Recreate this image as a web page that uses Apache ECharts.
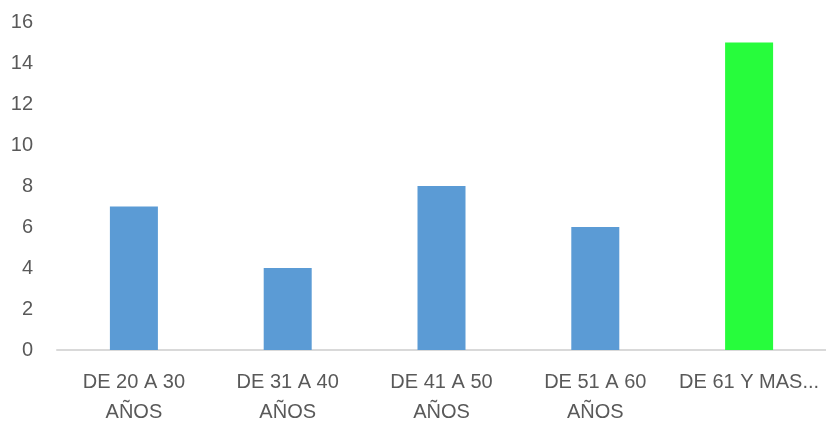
<!DOCTYPE html>
<html>
<head>
<meta charset="utf-8">
<script src="https://cdn.jsdelivr.net/npm/echarts@6/dist/echarts.min.js"></script>
<style>html,body{margin:0;padding:0;background:#fff;}#c{width:826px;height:427px;}</style>
</head>
<body>
<div id="c"></div>
<script>
var categories = ['DE 20 A 30\nAÑOS', 'DE 31 A 40\nAÑOS', 'DE 41 A 50\nAÑOS', 'DE 51 A 60\nAÑOS', 'DE 61 Y MAS...'];
var values = [7, 4, 8, 6, 15];
var barColors = ['#5B9BD5', '#5B9BD5', '#5B9BD5', '#5B9BD5', '#27FC3C'];
var yMin = 0, yMax = 16, yStep = 2;

var chart = echarts.init(document.getElementById('c'), null, {renderer: 'canvas'});
chart.setOption({
  animation: false,
  backgroundColor: '#ffffff',
  grid: {left: 57, right: -4, top: 22, bottom: 72, containLabel: false},
  xAxis: {
    type: 'category',
    data: categories,
    axisLine: {show: true, lineStyle: {color: '#D9D9D9', width: 2}},
    axisTick: {show: false},
    axisLabel: {color: '#595959', fontFamily: 'Liberation Sans', fontSize: 20, lineHeight: 30, margin: 17, interval: 0}
  },
  yAxis: {
    type: 'value',
    min: yMin, max: yMax, interval: yStep,
    splitLine: {show: false},
    axisLine: {show: false},
    axisTick: {show: false},
    axisLabel: {color: '#595959', fontFamily: 'Liberation Sans', fontSize: 20, margin: 24}
  },
  series: [{
    type: 'bar',
    data: values.map(function (v, i) { return {value: v, itemStyle: {color: barColors[i]}}; }),
    barWidth: 48
  }]
});
</script>
</body>
</html>
